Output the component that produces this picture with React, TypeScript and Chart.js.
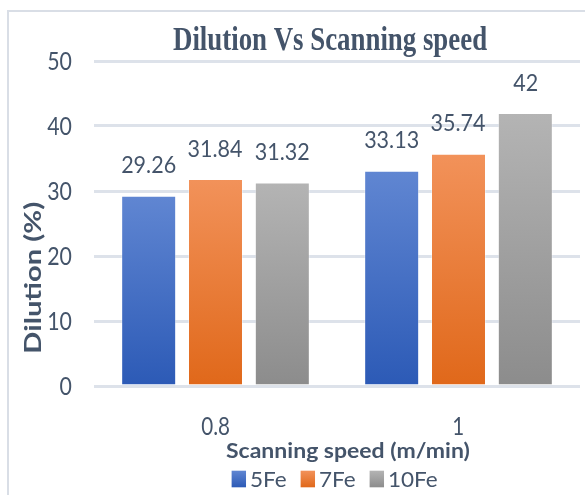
import { useEffect, useRef } from 'react';
import { Chart, registerables } from 'chart.js';

Chart.register(...registerables);

// Chart data
const speeds = ['0.8', '1'];
const seriesNames = ['5Fe', '7Fe', '10Fe'];
const fe5 = [29.26, 33.13];
const fe7 = [31.84, 35.74];
const fe10 = [31.32, 42];
const yTickValues = [0, 10, 20, 30, 40, 50];
const chartTitle = 'Dilution Vs Scanning speed';
const xAxisTitle = 'Scanning speed (m/min)';
const yAxisTitle = 'Dilution (%)';

// Styling
const TEXT = '#44546A';
const GRID = '#dde2ea';
const SANS = 'Lato, "Open Sans", sans-serif';
const SERIF = '"Liberation Serif", "Times New Roman", serif';
const FILLS: [string, string][] = [
  ['#6086d2', '#2c5ab6'],
  ['#f2925a', '#e0681a'],
  ['#b4b4b4', '#8c8c8c'],
];

type Fit = { size: number; sx: number };

// Font size giving a glyph height of `h`, and horizontal scale giving ink width `w`
function calibrate(
  ctx: CanvasRenderingContext2D,
  sample: string,
  weight: string,
  family: string,
  h: number,
  w: number,
  refChar: string
): Fit {
  ctx.save();
  ctx.font = `${weight} 100px ${family}`;
  const asc = ctx.measureText(refChar).actualBoundingBoxAscent / 100;
  const size = h / asc;
  ctx.font = `${weight} ${size}px ${family}`;
  const m = ctx.measureText(sample);
  const ink = m.actualBoundingBoxLeft + m.actualBoundingBoxRight;
  ctx.restore();
  return { size, sx: w / ink };
}

function inkWidth(ctx: CanvasRenderingContext2D, text: string, weight: string, family: string, fit: Fit) {
  ctx.save();
  ctx.font = `${weight} ${fit.size}px ${family}`;
  const m = ctx.measureText(text);
  ctx.restore();
  return (m.actualBoundingBoxLeft + m.actualBoundingBoxRight) * fit.sx;
}

function drawText(
  ctx: CanvasRenderingContext2D,
  text: string,
  weight: string,
  family: string,
  fit: Fit,
  x: number,
  y: number,
  align: 'left' | 'center' | 'right',
  color = TEXT
) {
  ctx.save();
  ctx.font = `${weight} ${fit.size}px ${family}`;
  ctx.textAlign = 'left';
  ctx.textBaseline = 'alphabetic';
  const m = ctx.measureText(text);
  const l = m.actualBoundingBoxLeft;
  const w = (l + m.actualBoundingBoxRight) * fit.sx;
  const start = align === 'left' ? x : align === 'right' ? x - w : x - w / 2;
  ctx.translate(start + l * fit.sx, y);
  ctx.scale(fit.sx, 1);
  ctx.fillStyle = color;
  ctx.fillText(text, 0, 0);
  ctx.restore();
}

function verticalGradient(ctx: CanvasRenderingContext2D, top: number, bottom: number, idx: number) {
  const g = ctx.createLinearGradient(0, top, 0, bottom);
  g.addColorStop(0, FILLS[idx][0]);
  g.addColorStop(1, FILLS[idx][1]);
  return g;
}

const textPlugin = {
  id: 'chartText',
  beforeDraw(chart: any) {
    const ctx: CanvasRenderingContext2D = chart.ctx;
    ctx.save();
    ctx.strokeStyle = '#d9dee6';
    ctx.lineWidth = 2;
    ctx.strokeRect(8, 11, 700, 700);
    ctx.restore();
  },
  afterDraw(chart: any) {
    const ctx: CanvasRenderingContext2D = chart.ctx;
    const yScale = chart.scales.y;
    const xScale = chart.scales.x;

    // Title
    const titleFit = calibrate(ctx, chartTitle, 'bold', SERIF, 22.3, 314, 'H');
    drawText(ctx, chartTitle, 'bold', SERIF, titleFit, 330, 50, 'center');

    // Y tick labels
    const yFit = calibrate(ctx, '50', 'normal', SANS, 19, 24, '0');
    yTickValues.forEach((v) => {
      const py = yScale.getPixelForValue(v);
      drawText(ctx, String(v), 'normal', SANS, yFit, 72, py + 9, 'right');
    });

    // X tick labels
    const xFit = calibrate(ctx, '0.8', 'normal', SANS, 18.3, 28.5, '0');
    speeds.forEach((s, i) => {
      drawText(ctx, s, 'normal', SANS, xFit, xScale.getPixelForTick(i), 435, 'center');
    });

    // Value labels above bars
    const vFit = calibrate(ctx, '29.26', 'normal', SANS, 17.7, 53.3, '0');
    chart.data.datasets.forEach((ds: any, di: number) => {
      const meta = chart.getDatasetMeta(di);
      meta.data.forEach((bar: any, i: number) => {
        drawText(ctx, String(ds.data[i]), 'normal', SANS, vFit, bar.x, bar.y - 22.5, 'center');
      });
    });

    // X axis title
    const xtFit = calibrate(ctx, xAxisTitle, 'bold', SANS, 15.3, 243, 'H');
    drawText(ctx, xAxisTitle, 'bold', SANS, xtFit, 347.5, 458, 'center');

    // Y axis title (rotated)
    ctx.save();
    ctx.font = `bold 100px ${SANS}`;
    const capR = ctx.measureText('H').actualBoundingBoxAscent / 100;
    const ym = ctx.measureText(yAxisTitle);
    const inkR = (ym.actualBoundingBoxLeft + ym.actualBoundingBoxRight) / 100;
    const ySize = 148.7 / inkR;
    const k = 16.7 / (capR * ySize);
    ctx.font = `bold ${ySize}px ${SANS}`;
    const ym2 = ctx.measureText(yAxisTitle);
    ctx.translate(40.7, 351.7);
    ctx.rotate(-Math.PI / 2);
    ctx.scale(1, k);
    ctx.fillStyle = TEXT;
    ctx.textAlign = 'left';
    ctx.textBaseline = 'alphabetic';
    ctx.fillText(yAxisTitle, ym2.actualBoundingBoxLeft, 0);
    ctx.restore();

    // Legend
    const lFit = calibrate(ctx, '5Fe', 'normal', SANS, 15.5, 35.3, 'F');
    const boxW = 14.4;
    const boxH = 16.6;
    const boxGap = 5;
    const itemGap = 14.3;
    const widths = seriesNames.map((n) => inkWidth(ctx, n, 'normal', SANS, lFit));
    const total =
      widths.reduce((a, b) => a + b, 0) + seriesNames.length * (boxW + boxGap) + (seriesNames.length - 1) * itemGap;
    let lx = 334.5 - total / 2;
    const boxTop = 470.7;
    seriesNames.forEach((n, i) => {
      ctx.save();
      ctx.fillStyle = verticalGradient(ctx, boxTop, boxTop + boxH, i);
      ctx.fillRect(lx, boxTop, boxW, boxH);
      ctx.restore();
      lx += boxW + boxGap;
      drawText(ctx, n, 'normal', SANS, lFit, lx, 486.7, 'left');
      lx += widths[i] + itemGap;
    });
  },
};

export default function App() {
  const canvasRef = useRef<HTMLCanvasElement | null>(null);

  useEffect(() => {
    const canvas = canvasRef.current;
    if (!canvas) return;

    const barFill = (idx: number) => (c: any) => {
      const chart = c.chart;
      if (!chart.chartArea || c.dataIndex === undefined) return FILLS[idx][1];
      const y = chart.scales.y;
      const top = y.getPixelForValue(c.dataset.data[c.dataIndex]);
      const bottom = y.getPixelForValue(0);
      return verticalGradient(chart.ctx, top, bottom, idx);
    };

    const seriesValues = [fe5, fe7, fe10];
    const chart = new Chart(canvas, {
      type: 'bar',
      data: {
        labels: speeds,
        datasets: seriesNames.map((name, i) => ({
          label: name,
          data: seriesValues[i],
          backgroundColor: barFill(i),
          borderColor: 'rgba(255,255,255,0.35)',
          borderWidth: 1,
          categoryPercentage: 0.825,
          barPercentage: 0.823,
        })),
      },
      options: {
        responsive: false,
        animation: false,
        devicePixelRatio: 1,
        layout: { padding: { left: 94, right: 5, top: 61, bottom: 109 } },
        plugins: {
          legend: { display: false },
          title: { display: false },
          tooltip: { enabled: false },
        },
        scales: {
          x: {
            ticks: { display: false },
            grid: { display: false, drawTicks: false },
            border: { display: false },
          },
          y: {
            min: 0,
            max: 50,
            ticks: { display: false, stepSize: 10 },
            grid: { color: GRID, lineWidth: 3, drawTicks: false },
            border: { display: false },
          },
        },
      },
      plugins: [textPlugin],
    });

    return () => chart.destroy();
  }, []);

  return (
    <div style={{ position: 'fixed', left: 0, top: 0, width: 585, height: 495, background: '#ffffff' }}>
      <canvas ref={canvasRef} width={585} height={495} style={{ display: 'block' }} />
    </div>
  );
}
